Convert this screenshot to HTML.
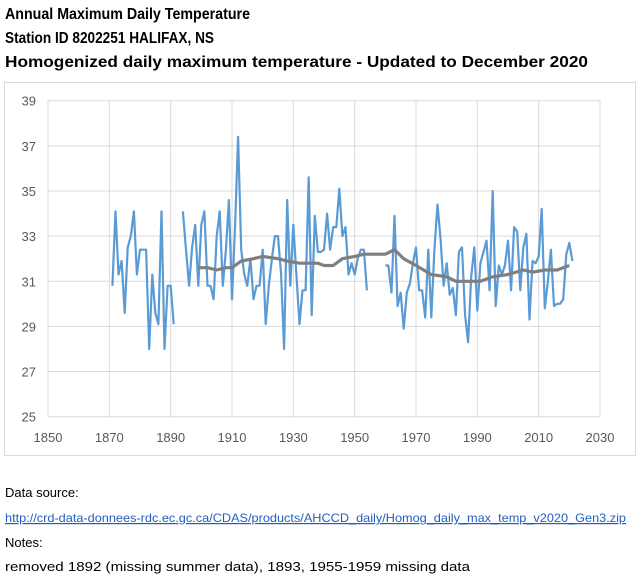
<!DOCTYPE html>
<html><head><meta charset="utf-8"><style>
body{margin:0;background:#fff;width:640px;height:580px;overflow:hidden}
svg{display:block;font-family:"Liberation Sans",sans-serif}
</style></head><body>
<svg width="640" height="580">
<g font-weight="bold" font-size="16" fill="#000">
<text x="5" y="19" textLength="245" lengthAdjust="spacingAndGlyphs">Annual Maximum Daily Temperature</text>
<text x="5" y="43" textLength="209" lengthAdjust="spacingAndGlyphs">Station ID 8202251  HALIFAX, NS</text>
<text x="5" y="67" textLength="583" lengthAdjust="spacingAndGlyphs">Homogenized daily maximum temperature - Updated to December 2020</text>
</g>
<rect x="4.5" y="82.5" width="631" height="373" fill="#fff" stroke="#d9d9d9"/>
<g id="grid"></g>
<g id="ylab" font-size="13" fill="#595959" text-anchor="end"></g>
<g id="xlab" font-size="13" fill="#595959" text-anchor="middle"></g>
<g id="series"></g>
<g font-size="13" fill="#000">
<text x="5" y="497">Data source:</text>
<text x="5" y="522" font-size="12" fill="#1f5fc0" text-decoration="underline" textLength="621" lengthAdjust="spacingAndGlyphs">http://crd-data-donnees-rdc.ec.gc.ca/CDAS/products/AHCCD_daily/Homog_daily_max_temp_v2020_Gen3.zip</text>
<text x="5" y="547">Notes:</text>
<text x="5" y="571" textLength="465" lengthAdjust="spacingAndGlyphs">removed 1892 (missing summer data), 1893, 1955-1959 missing data</text>
</g>
</svg>
<script>
const xTicks=[1850,1870,1890,1910,1930,1950,1970,1990,2010,2030];
const yTicks=[25,27,29,31,33,35,37,39];
const startYear=1871;
const annualMax=[30.8,34.1,31.3,31.9,29.6,32.5,33.0,34.1,31.3,32.4,32.4,32.4,28.0,31.3,29.6,29.1,34.1,28.0,30.8,30.8,29.1,null,null,
34.1,32.4,30.8,32.5,33.5,30.8,33.5,34.1,30.8,30.8,30.2,33.0,34.1,30.8,32.4,34.6,30.2,33.5,37.4,32.4,31.3,30.8,32.0,30.2,30.8,30.8,32.4,29.1,30.8,32.0,33.0,33.0,31.3,28.0,34.6,30.8,33.5,31.3,29.1,30.6,30.6,35.6,29.5,33.9,32.3,32.3,32.4,34.0,32.4,33.4,33.4,35.1,33.0,33.4,31.3,31.8,31.3,32.0,32.4,32.4,30.6,
null,null,null,null,null,
31.7,31.7,30.5,33.9,29.9,30.5,28.9,30.5,30.9,31.8,32.5,30.6,30.6,29.4,32.4,29.4,32.4,34.4,32.9,30.8,31.8,30.4,30.7,29.5,32.3,32.5,29.5,28.3,31.2,32.5,29.7,31.8,32.3,32.8,30.6,35.0,29.9,31.7,31.3,31.7,32.8,30.6,33.4,33.2,30.6,32.5,33.1,29.3,31.9,31.8,32.1,34.2,29.8,31.0,32.4,29.9,30.0,30.0,30.2,32.2,32.7,31.9];
const avgYears=[1899,1902,1905,1908,1910,1913,1917,1920,1925,1928,1932,1935,1938,1940,1943,1946,1950,1953,1956,1960,1963,1966,1970,1975,1980,1983,1988,1991,1995,2000,2005,2008,2012,2016,2020];
const avgValues=[31.6,31.6,31.5,31.6,31.6,31.9,32.0,32.1,32.0,31.9,31.8,31.8,31.8,31.7,31.7,32.0,32.1,32.2,32.2,32.2,32.4,32.0,31.7,31.3,31.2,31.0,31.0,31.0,31.2,31.3,31.5,31.4,31.5,31.5,31.7];
const NS='http://www.w3.org/2000/svg';
const X=y=>48+(y-1850)*(552/180);
const Y=v=>416.7-(v-25)*(316/14);
function mk(t,a,p){const e=document.createElementNS(NS,t);for(const k in a)e.setAttribute(k,a[k]);p.appendChild(e);return e;}
const grid=document.getElementById('grid'),yl=document.getElementById('ylab'),xl=document.getElementById('xlab'),ser=document.getElementById('series');
yTicks.forEach(v=>{
 const l=mk('line',{x1:48,x2:600,y1:Y(v),y2:Y(v),stroke:'#d9d9d9','stroke-width':1},grid);
 
 
 const t=mk('text',{x:36,y:Y(v)+5},yl);t.textContent=v;
 
 
});
xTicks.forEach(v=>{
 const l=mk('line',{x1:X(v),x2:X(v),y1:Y(39),y2:Y(25),stroke:'#d9d9d9','stroke-width':1},grid);
 
 
 const t=mk('text',{x:X(v),y:442},xl);t.textContent=v;
 
 
});
let segs=[],cur=[];
annualMax.forEach((v,i)=>{if(v==null){if(cur.length)segs.push(cur);cur=[];}else cur.push(X(startYear+i).toFixed(1)+','+Y(v).toFixed(1));});
if(cur.length)segs.push(cur);
segs.forEach(s=>{
 const p=mk('polyline',{points:s.join(' '),fill:'none',stroke:'#5b9bd5','stroke-width':2.2,'stroke-linejoin':'round'},ser);
 
 
});
const ap=mk('polyline',{points:avgYears.map((y,i)=>X(y).toFixed(1)+','+Y(avgValues[i]).toFixed(1)).join(' '),fill:'none',stroke:'#7f7f7f','stroke-width':3.2,'stroke-linejoin':'round'},ser);


</script>
</body></html>
